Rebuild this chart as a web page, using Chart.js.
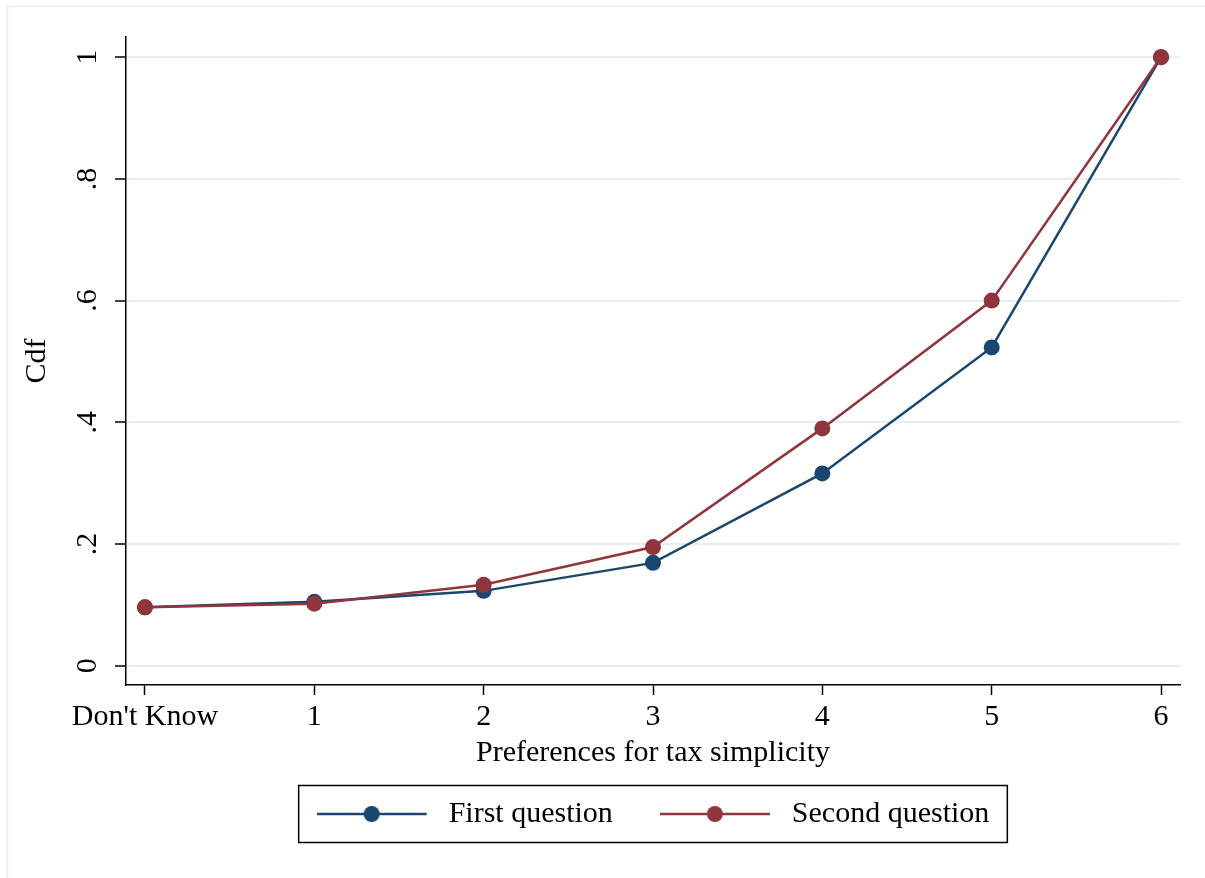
<!DOCTYPE html>
<html>
<head>
<meta charset="utf-8">
<script src="https://cdn.jsdelivr.net/npm/chart.js@4.4.1/dist/chart.umd.min.js"></script>
<style>
  html, body { margin: 0; padding: 0; background: #ffffff; }
  #wrap { width: 1205px; height: 878px; position: relative; }
</style>
</head>
<body>
<div id="wrap"><canvas id="cdf" width="1205" height="878"></canvas></div>
<script>
// Categories along the x axis (positions 0..6)
const categories = ["Don't Know", "1", "2", "3", "4", "5", "6"];
// Cumulative shares for each survey question
const firstQuestion = [0.096, 0.105, 0.123, 0.169, 0.316, 0.523, 1.0];
const secondQuestion = [0.096, 0.102, 0.133, 0.195, 0.390, 0.600, 1.0];
// Y axis tick values and their printed labels
const yTickValues = [0, 0.2, 0.4, 0.6, 0.8, 1];
const yTickLabels = ["0", ".2", ".4", ".6", ".8", "1"];
const seriesNames = ["First question", "Second question"];

const BLUE = '#1a476f';
const RED = '#90353b';
const GRID = '#e6eef0';
const FONT = "'Liberation Serif', 'Times New Roman', serif";

function toPoints(values) {
  return values.map((v, i) => ({ x: i, y: v }));
}

// Legend swatch: a short line with a marker in its middle
function legendSwatch(color) {
  const c = document.createElement('canvas');
  c.width = 117; c.height = 20;
  const g = c.getContext('2d');
  g.strokeStyle = color; g.lineWidth = 2.5;
  g.beginPath(); g.moveTo(0, 10); g.lineTo(110, 10); g.stroke();
  g.fillStyle = color;
  g.beginPath(); g.arc(55, 10, 8, 0, Math.PI * 2); g.fill();
  return c;
}
const swatches = [legendSwatch(BLUE), legendSwatch(RED)];

// White page with a faint outer frame
const pageFrame = {
  id: 'pageFrame',
  beforeDraw(chart) {
    const ctx = chart.ctx;
    ctx.save();
    ctx.fillStyle = '#ffffff';
    ctx.fillRect(0, 0, chart.width, chart.height);
    ctx.strokeStyle = '#e8eeee';
    ctx.lineWidth = 1.5;
    ctx.beginPath();
    ctx.moveTo(7.5, chart.height);
    ctx.lineTo(7.5, 6.5);
    ctx.lineTo(chart.width, 6.5);
    ctx.stroke();
    ctx.restore();
  }
};

// Black frame around the legend entries
const legendFrame = {
  id: 'legendFrame',
  afterDraw(chart) {
    const boxes = chart.legend && chart.legend.legendHitBoxes;
    if (!boxes || !boxes.length) return;
    const first = boxes[0], last = boxes[boxes.length - 1];
    const left = first.left - 18;
    const right = last.left + last.width + 18;
    const cy = first.top + first.height / 2;
    const ctx = chart.ctx;
    ctx.save();
    ctx.strokeStyle = '#000000';
    ctx.lineWidth = 1.5;
    ctx.strokeRect(left, cy - 28.5, right - left, 57);
    ctx.restore();
  }
};

new Chart(document.getElementById('cdf'), {
  type: 'line',
  data: {
    datasets: [
      {
        label: seriesNames[0],
        data: toPoints(firstQuestion),
        borderColor: BLUE,
        backgroundColor: BLUE,
        borderWidth: 2.5,
        pointRadius: 8,
        pointBorderWidth: 0,
        pointBackgroundColor: BLUE,
        tension: 0,
        order: 1
      },
      {
        label: seriesNames[1],
        data: toPoints(secondQuestion),
        borderColor: RED,
        backgroundColor: RED,
        borderWidth: 2.5,
        pointRadius: 8,
        pointBorderWidth: 0,
        pointBackgroundColor: RED,
        tension: 0,
        order: 0
      }
    ]
  },
  options: {
    responsive: false,
    animation: false,
    events: [],
    layout: { padding: { top: 37, right: 25, left: 0, bottom: 39 } },
    plugins: {
      tooltip: { enabled: false },
      legend: {
        display: true,
        position: 'bottom',
        fullSize: false,
        labels: {
          usePointStyle: true,
          pointStyleWidth: 117,
          padding: 47,
          color: '#000000',
          font: { family: FONT, size: 30 },
          generateLabels(chart) {
            return chart.data.datasets.map((ds, i) => ({
              text: ds.label,
              pointStyle: swatches[i],
              fillStyle: ds.borderColor,
              strokeStyle: ds.borderColor,
              lineWidth: 0,
              hidden: false,
              datasetIndex: i,
              fontColor: '#000000'
            }));
          }
        }
      }
    },
    scales: {
      x: {
        type: 'linear',
        min: -0.112,
        max: 6.112,
        afterBuildTicks(scale) {
          scale.ticks = categories.map((_, i) => ({ value: i }));
        },
        afterFit(scale) { scale.height = 67; },
        ticks: {
          autoSkip: false,
          maxRotation: 0,
          padding: 4,
          color: '#000000',
          font: { family: FONT, size: 30 },
          callback: (value) => categories[value]
        },
        grid: {
          drawOnChartArea: false,
          drawTicks: true,
          tickLength: 10,
          tickColor: '#000000',
          tickWidth: 1.5
        },
        border: { display: true, color: '#000000', width: 1.5 },
        title: {
          display: true,
          text: 'Preferences for tax simplicity',
          color: '#000000',
          font: { family: FONT, size: 30 },
          padding: { top: 0, bottom: -19 }
        }
      },
      y: {
        type: 'linear',
        min: -0.0317,
        max: 1.0332,
        afterBuildTicks(scale) {
          scale.ticks = yTickValues.map(v => ({ value: v }));
        },
        afterFit(scale) { scale.width = 126; },
        ticks: {
          autoSkip: false,
          minRotation: 90,
          maxRotation: 90,
          crossAlign: 'center',
          padding: 16,
          color: '#000000',
          font: { family: FONT, size: 30 },
          callback: (value) => {
            const k = yTickValues.findIndex(v => Math.abs(v - value) < 1e-9);
            return k >= 0 ? yTickLabels[k] : '';
          }
        },
        grid: {
          color: GRID,
          lineWidth: 2,
          drawTicks: true,
          tickLength: 11,
          tickColor: '#000000',
          tickWidth: 1.5
        },
        border: { display: true, color: '#000000', width: 1.5 },
        title: {
          display: true,
          text: 'Cdf',
          color: '#000000',
          font: { family: FONT, size: 30 },
          padding: { top: 19, bottom: 0 }
        }
      }
    }
  },
  plugins: [pageFrame, legendFrame]
});
</script>
</body>
</html>
